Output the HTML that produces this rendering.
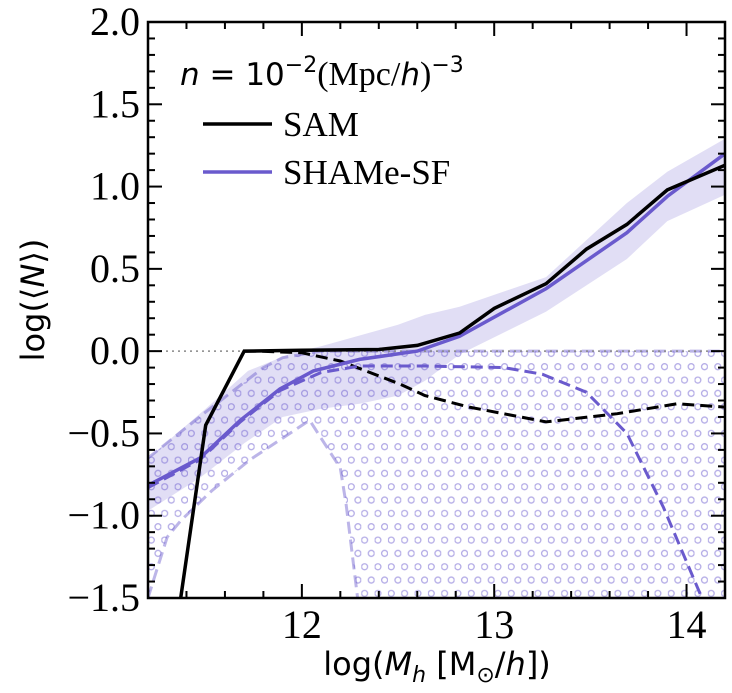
<!DOCTYPE html>
<html><head><meta charset="utf-8"><style>
html,body{margin:0;padding:0;background:#fff;}
svg{display:block;}
.tl{font-family:"Liberation Serif","DejaVu Serif",serif;font-size:40px;fill:#000;}
.lg{font-family:"Liberation Serif","DejaVu Serif",serif;font-size:35px;fill:#000;}
.al{font-family:"DejaVu Sans","Liberation Sans",sans-serif;font-size:32px;fill:#000;}
</style></head><body>
<svg id="chart" width="732" height="693" viewBox="0 0 732 693" xmlns="http://www.w3.org/2000/svg">
<defs>
<pattern id="hatch" patternUnits="userSpaceOnUse" width="13.33" height="26.67" x="148" y="0">
<circle cx="3.3" cy="6.7" r="3" fill="none" stroke="#6a5acd" stroke-opacity="0.5" stroke-width="1.3"/>
<circle cx="10" cy="20" r="3" fill="none" stroke="#6a5acd" stroke-opacity="0.5" stroke-width="1.3"/>
</pattern>
<clipPath id="clip"><rect x="148" y="22" width="577" height="576"/></clipPath>
</defs>
<g id="plot" clip-path="url(#clip)"></g>
<g id="axes"></g>
<text class="al" x="437" y="675" text-anchor="middle">log(<tspan font-style="italic">M</tspan><tspan font-size="22" font-style="italic" dy="7">h</tspan><tspan dy="-7"> [M</tspan><tspan font-size="22" dy="7">⊙</tspan><tspan dy="-7">/</tspan><tspan font-style="italic">h</tspan>])</text>
<text class="al" transform="translate(44,300) rotate(-90)" text-anchor="middle">log(⟨<tspan font-style="italic">N</tspan>⟩)</text>
<g>
<text x="180" y="85" font-family="Liberation Serif, serif" font-size="34"><tspan font-family="DejaVu Sans, sans-serif" font-size="31" font-style="italic">n</tspan><tspan font-family="DejaVu Sans, sans-serif" font-size="31"> = 10</tspan><tspan font-family="DejaVu Sans, sans-serif" font-size="22" dy="-13">−2</tspan><tspan dy="13">(Mpc/</tspan><tspan font-family="DejaVu Sans, sans-serif" font-size="31" font-style="italic">h</tspan>)<tspan font-family="DejaVu Sans, sans-serif" font-size="22" dy="-13">−3</tspan></text>
<line x1="203" y1="124" x2="272" y2="124" stroke="#000" stroke-width="3.5"/>
<text x="283" y="136" class="lg">SAM</text>
<line x1="203" y1="172" x2="272" y2="172" stroke="#6a5acd" stroke-width="3.5"/>
<text x="283" y="184" class="lg">SHAMe-SF</text>
</g>
</svg>
<script>
const bandX=[11.2,11.5,11.72,11.95,12.1,12.5,12.64,12.82,13.27,13.69,13.9,14.2];
const bandUpper=[-0.65,-0.35,-0.12,-0.01,0.03,0.16,0.22,0.27,0.45,0.9,1.09,1.29];
const bandLowerX=[11.2,11.47,11.7,11.9,12.1,12.3,12.5,12.64,12.82,13.27,13.69,13.9,14.2];
const bandLower=[-0.97,-0.77,-0.56,-0.40,-0.35,-0.32,-0.27,-0.18,-0.02,0.24,0.56,0.79,0.95];
const hatchUpperX=[11.2,11.5,11.8,11.9,12.0,12.1,14.2];
const hatchUpper=[-0.65,-0.37,-0.1,-0.04,-0.02,0,0];
const hatchLowerX=[11.2,11.24,11.3,11.37,11.53,11.73,12.04,12.2,12.23,12.29,12.3,14.2];
const hatchLower=[-1.5,-1.35,-1.13,-1.03,-0.85,-0.66,-0.42,-0.71,-0.93,-1.5,-1.6,-1.6];
const samX=[11.37,11.5,11.7,12.0,12.4,12.6,12.82,13.0,13.27,13.48,13.69,13.9,14.2];
const samY=[-1.5,-0.45,0,0.005,0.01,0.035,0.11,0.26,0.41,0.62,0.77,0.98,1.13];
const shameX=[11.2,11.47,11.68,11.886,12.06,12.3,12.6,12.82,13.27,13.69,13.9,14.2];
const shameY=[-0.815,-0.65,-0.42,-0.23,-0.12,-0.05,0.0,0.09,0.38,0.72,0.94,1.20];
const samCenX=[11.7,11.77,12.0,12.2,12.51,12.64,12.87,13.27,13.64,13.95,14.2];
const samCenY=[0,0,-0.01,-0.06,-0.2,-0.27,-0.34,-0.43,-0.38,-0.32,-0.34];
const shameCenX=[11.2,11.47,11.68,11.886,12.1,12.3,12.64,13.05,13.25,13.48,13.69,13.88,14.08];
const shameCenY=[-0.83,-0.66,-0.43,-0.24,-0.13,-0.09,-0.09,-0.10,-0.14,-0.25,-0.50,-0.95,-1.5];
const xTicks=[12,13,14];
const yTicks=[-1.5,-1.0,-0.5,0.0,0.5,1.0,1.5,2.0];
const yTickLabels=["−1.5","−1.0","−0.5","0.0","0.5","1.0","1.5","2.0"];

const X0=148,X1=725,Y0=22,Y1=598,xmin=11.2,xmax=14.2,ymin=-1.5,ymax=2.0;
function sx(v){return X0+(v-xmin)/(xmax-xmin)*(X1-X0);}
function sy(v){return Y1-(v-ymin)/(ymax-ymin)*(Y1-Y0);}
const NS='http://www.w3.org/2000/svg';
const plot=document.getElementById('plot'),axes=document.getElementById('axes');
function mk(tag,attrs,parent){const e=document.createElementNS(NS,tag);for(const k in attrs)e.setAttribute(k,attrs[k]);parent.appendChild(e);return e;}
function pts(xs,ys){return xs.map((x,i)=>sx(x).toFixed(1)+','+sy(ys[i]).toFixed(1));}
function area(xu,yu,xl,yl){return 'M'+pts(xu,yu).join('L')+'L'+pts(xl,yl).reverse().join('L')+'Z';}

let e;
e=mk('path',{d:area(bandX,bandUpper,bandLowerX,bandLower),fill:'#6a5acd','fill-opacity':'0.2',stroke:'none'},plot);


e=mk('path',{d:area(hatchUpperX,hatchUpper,hatchLowerX,hatchLower),fill:'url(#hatch)',stroke:'none'},plot);


e=mk('polyline',{points:pts(hatchUpperX,hatchUpper).join(' '),fill:'none',stroke:'#6a5acd','stroke-opacity':'0.45','stroke-width':'3','stroke-dasharray':'12,6'},plot);


e=mk('polyline',{points:pts(hatchLowerX,hatchLower).join(' '),fill:'none',stroke:'#6a5acd','stroke-opacity':'0.45','stroke-width':'3','stroke-dasharray':'12,6'},plot);


e=mk('line',{x1:X0,x2:X1,y1:sy(0),y2:sy(0),stroke:'#888','stroke-width':'1.5','stroke-dasharray':'2,4'},plot);


e=mk('polyline',{points:pts(samCenX,samCenY).join(' '),fill:'none',stroke:'#000','stroke-width':'3','stroke-dasharray':'12,6'},plot);


e=mk('polyline',{points:pts(shameCenX,shameCenY).join(' '),fill:'none',stroke:'#6a5acd','stroke-width':'3','stroke-dasharray':'12,6'},plot);


e=mk('polyline',{points:pts(shameX,shameY).join(' '),fill:'none',stroke:'#6a5acd','stroke-width':'3.5'},plot);


e=mk('polyline',{points:pts(samX,samY).join(' '),fill:'none',stroke:'#000','stroke-width':'3.5'},plot);



for(let v=11.2;v<=14.2001;v+=0.2){
  const major=Math.abs(v-Math.round(v))<1e-6;const L=major?14:7;const x=sx(v);
  mk('line',{x1:x,x2:x,y1:Y1,y2:Y1-L,stroke:'#000','stroke-width':'2'},axes);
  mk('line',{x1:x,x2:x,y1:Y0,y2:Y0+L,stroke:'#000','stroke-width':'2'},axes);
}
for(let i=-15;i<=20;i++){
  const v=i/10;const major=i%5===0;const L=major?14:7;const y=sy(v);
  mk('line',{x1:X0,x2:X0+L,y1:y,y2:y,stroke:'#000','stroke-width':'2'},axes);
  mk('line',{x1:X1,x2:X1-L,y1:y,y2:y,stroke:'#000','stroke-width':'2'},axes);
}
xTicks.forEach(v=>{
  e=mk('text',{x:sx(v),y:Y1+40,'text-anchor':'middle',class:'tl'},axes);e.textContent=String(v);
  
  
});
yTicks.forEach((v,i)=>{
  e=mk('text',{x:X0-8,y:sy(v)+13,'text-anchor':'end',class:'tl'},axes);e.textContent=yTickLabels[i];
  
  
});
e=mk('rect',{x:X0,y:Y0,width:X1-X0,height:Y1-Y0,fill:'none',stroke:'#000','stroke-width':'2.5'},axes);


</script>
</body></html>
